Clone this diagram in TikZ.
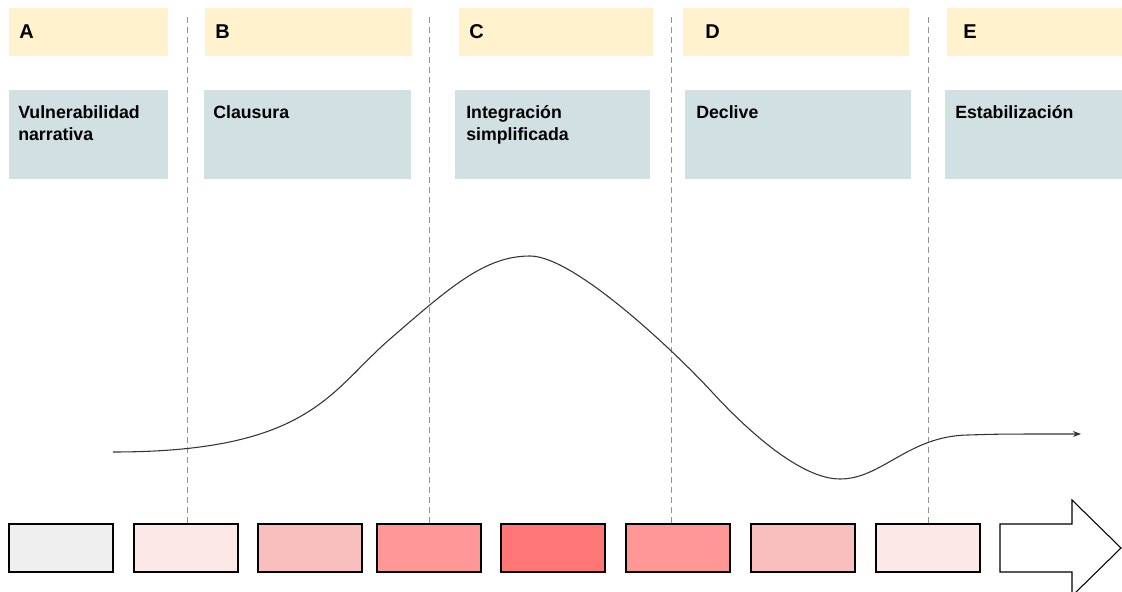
\documentclass[tikz,border=0pt]{standalone}
\usepackage{fontspec}
\setmainfont{Liberation Sans}
\usetikzlibrary{arrows.meta}
\definecolor{hdr}{HTML}{FFF2CC}
\definecolor{phase}{HTML}{D0E0E3}
\definecolor{gz}{HTML}{EFEFEF}
\definecolor{ra}{HTML}{FDE8E8}
\definecolor{rb}{HTML}{F9BFBF}
\definecolor{rc}{HTML}{FF9797}
\definecolor{rd}{HTML}{FF7676}
\definecolor{curvecol}{HTML}{333333}
\newcommand{\pbox}[6]{\node[#6, anchor=north west, minimum width=#4*0.75pt, minimum height=#5*0.75pt] (#1) at (#2,#3) {};}
\begin{document}
\begin{tikzpicture}[x=0.75pt, y=-0.75pt,
  hdrbox/.style={fill=hdr, draw=none, inner sep=0pt, outer sep=0pt},
  phasebox/.style={fill=phase, draw=none, inner sep=0pt, outer sep=0pt},
  stepbox/.style={draw=black, line width=0.8pt, inner sep=0pt, outer sep=0pt},
  letter/.style={anchor=base west, inner sep=0pt, font=\fontsize{15}{18}\selectfont\bfseries},
  phasetxt/.style={anchor=north west, inner sep=0pt, align=left, font=\fontsize{13.3}{16.5}\selectfont\bfseries},
  sep/.style={draw=gray!85, line width=0.75pt, dash pattern=on 4.5pt off 3pt},
  curve/.style={draw=curvecol, line width=0.8pt}
]
\useasboundingbox (0,0) rectangle (1122,592);
\clip (0,0) rectangle (1122,592);

% header boxes
\pbox{hA}{9}{8}{159}{48}{hdrbox}
\pbox{hB}{205}{8}{207}{48}{hdrbox}
\pbox{hC}{459}{8}{194}{48}{hdrbox}
\pbox{hD}{683}{8}{226}{48}{hdrbox}
\pbox{hE}{947}{8}{176}{48}{hdrbox}

% phase boxes
\pbox{pA}{9}{90}{159}{89}{phasebox}
\pbox{pB}{204}{90}{207}{89}{phasebox}
\pbox{pC}{455}{90}{195}{89}{phasebox}
\pbox{pD}{685}{90}{226}{89}{phasebox}
\pbox{pE}{945}{90}{178}{89}{phasebox}

% letters
\node[letter] (lA) at (19,39) {A};
\node[letter] (lB) at (215,39) {B};
\node[letter] (lC) at (469,39) {C};
\node[letter] (lD) at (705,39) {D};
\node[letter] (lE) at (963,39) {E};

% phase texts (first baseline at y=118)
\node[phasetxt] (tA) at (18,100.3) {\rule{0pt}{13.3pt}Vulnerabilidad\\narrativa};
\node[phasetxt] (tB) at (213,100.3) {\rule{0pt}{13.3pt}Clausura};
\node[phasetxt] (tC) at (466,100.3) {\rule{0pt}{13.3pt}Integración\\simplificada};
\node[phasetxt] (tD) at (696,100.3) {\rule{0pt}{13.3pt}Declive};
\node[phasetxt] (tE) at (955,100.3) {\rule{0pt}{13.3pt}Estabilización};

% bottom step boxes
\pbox{s1}{9}{524}{104}{48}{stepbox, fill=gz}
\pbox{s2}{134}{524}{104}{48}{stepbox, fill=ra}
\pbox{s3}{258}{524}{104}{48}{stepbox, fill=rb}
\pbox{s4}{377}{524}{104}{48}{stepbox, fill=rc}
\pbox{s5}{501}{524}{104}{48}{stepbox, fill=rd}
\pbox{s6}{626}{524}{104}{48}{stepbox, fill=rc}
\pbox{s7}{751}{524}{104}{48}{stepbox, fill=rb}
\pbox{s8}{876}{524}{104}{48}{stepbox, fill=ra}

% big arrow
\draw[stepbox, fill=white, line join=miter] (1000,524) -- (1072,524) -- (1072,500) -- (1121,548) -- (1072,596) -- (1072,572) -- (1000,572) -- cycle;

% separators
\coordinate (d1) at (187,17);
\coordinate (d2) at (429,17);
\coordinate (d3) at (671,17);
\coordinate (d4) at (928,17);
\draw[sep] (d1) -- (d1 |- s2.north);
\draw[sep] (d2) -- (d2 |- s4.north);
\draw[sep] (d3) -- (d3 |- s6.north);
\draw[sep] (d4) -- (d4 |- s8.north);

% curve
\coordinate (c0) at (113,452);
\coordinate (c1) at (390,339);
\coordinate (peak) at (530,256);
\coordinate (c2) at (712,392);
\coordinate (low) at (840,479);
\coordinate (c3) at (968,435);
\coordinate (cend) at (1081,434);
\draw[curve, -{Stealth[length=6pt, width=4.5pt]}]
  (c0) .. controls (310,452) and (329.5,391.4) .. (c1)
       .. controls (450.5,286.6) and (485,256) .. (peak)
       .. controls (575,256) and (678,355) .. (c2)
       .. controls (746,429) and (800,479) .. (low)
       .. controls (882,479) and (908,436) .. (c3)
       .. controls (1000,434) .. (cend);
\end{tikzpicture}
\end{document}
